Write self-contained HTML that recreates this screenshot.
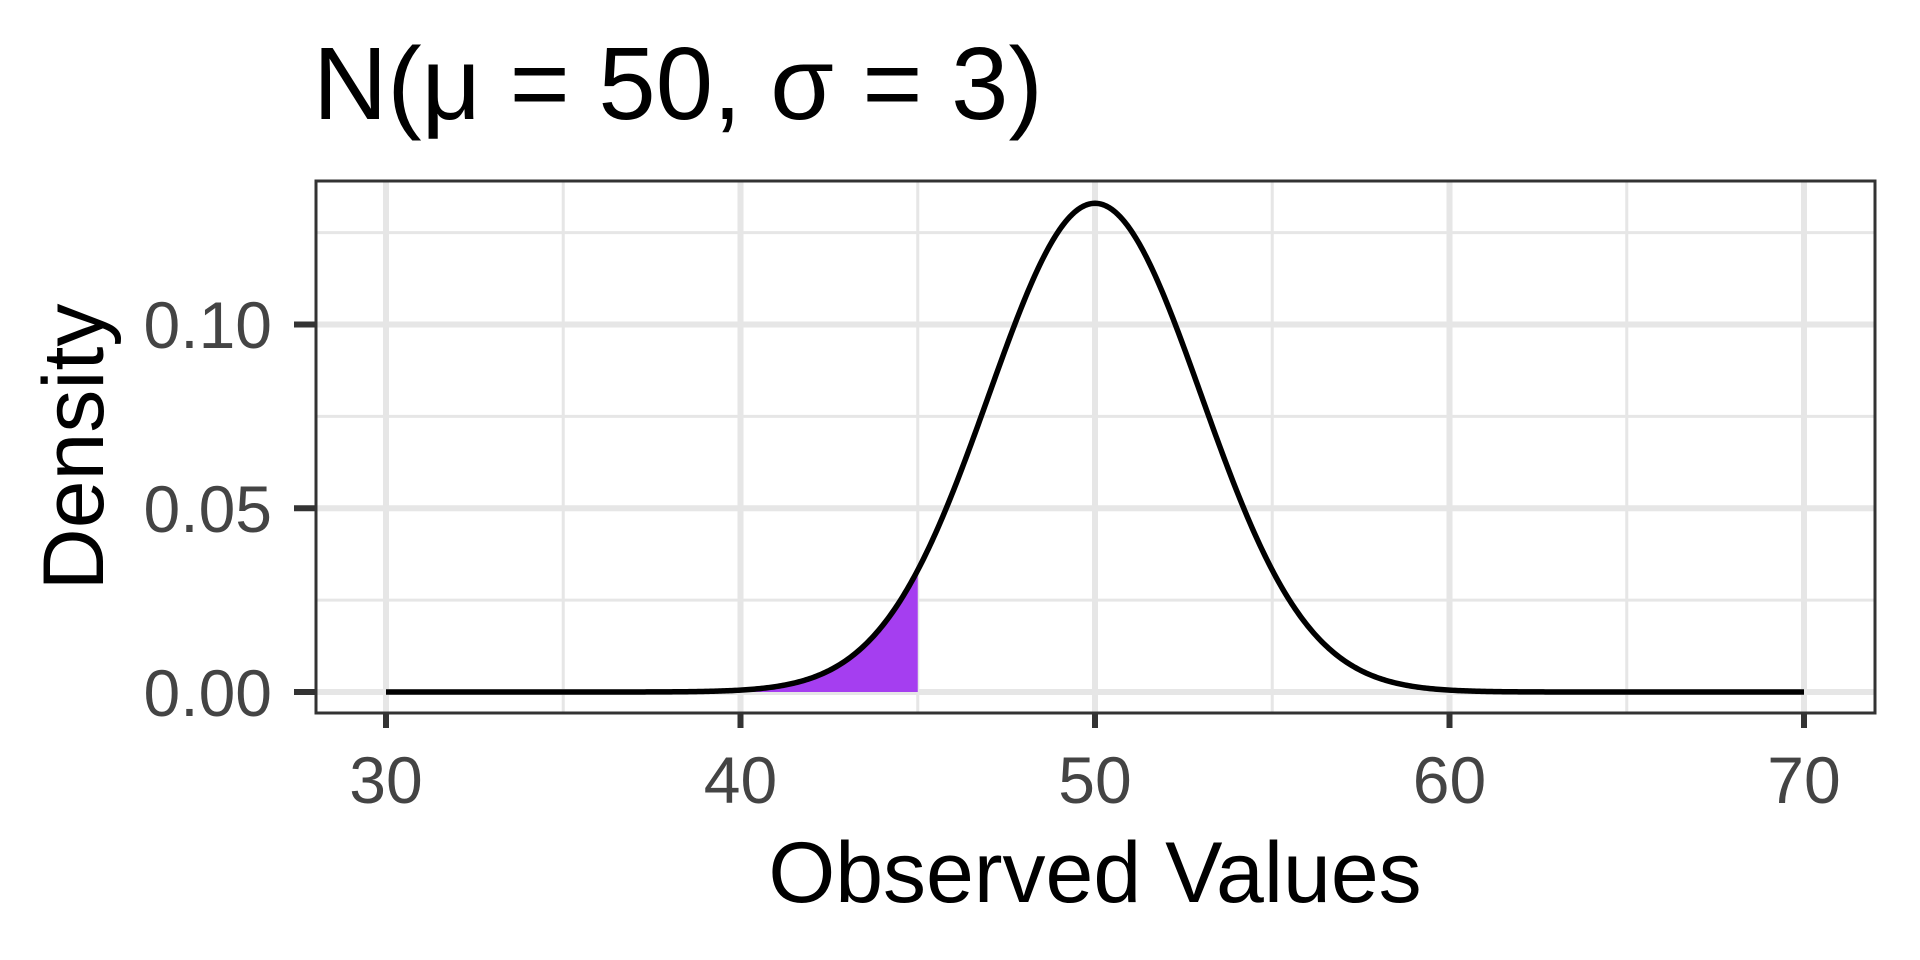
<!DOCTYPE html>
<html><head><meta charset="utf-8"><style>
html,body{margin:0;padding:0;background:#fff;}
svg{display:block;font-family:"Liberation Sans",Arial,sans-serif;}
</style></head><body>
<svg id="s" width="1920" height="960" viewBox="0 0 1920 960" xmlns="http://www.w3.org/2000/svg">
<rect width="1920" height="960" fill="#fff"/>
<g id="grid"></g>
<path id="fill" fill="#a53ef0" stroke="none"/>
<path id="curve" fill="none" stroke="#000" stroke-width="5.5" stroke-linejoin="round"/>
<rect x="316" y="181" width="1559" height="532" fill="none" stroke="#333" stroke-width="3"/>
<g id="ticks" stroke="#333" stroke-width="6"></g>
<g fill="#444" font-size="66">
<text x="272" y="716" text-anchor="end">0.00</text>
<text x="272" y="532" text-anchor="end">0.05</text>
<text x="272" y="348" text-anchor="end">0.10</text>
<text x="386" y="803" text-anchor="middle">30</text>
<text x="740.5" y="803" text-anchor="middle">40</text>
<text x="1095" y="803" text-anchor="middle">50</text>
<text x="1449.5" y="803" text-anchor="middle">60</text>
<text x="1804" y="803" text-anchor="middle">70</text>
</g>
<text x="1095" y="902" text-anchor="middle" font-size="86" fill="#000">Observed Values</text>
<text transform="translate(103,447) rotate(-90)" text-anchor="middle" font-size="86" fill="#000">Density</text>
<text x="313" y="119" font-size="103" fill="#000">N(μ = 50, σ = 3)</text>
</svg>
<script>
var X=function(x){return 386+(x-30)*35.45;},Y=function(d){return 692-d*3675;};
var g=document.getElementById('grid'),h='';
function ln(x1,y1,x2,y2,w){h+='<line x1="'+x1+'" y1="'+y1+'" x2="'+x2+'" y2="'+y2+'" stroke="#e6e6e6" stroke-width="'+w+'"/>';}
[35,45,55,65].forEach(function(v){ln(X(v),181,X(v),713,3);});
[0.025,0.075,0.125].forEach(function(v){ln(316,Y(v),1875,Y(v),3);});
[30,40,50,60,70].forEach(function(v){ln(X(v),181,X(v),713,6);});
[0,0.05,0.10].forEach(function(v){ln(316,Y(v),1875,Y(v),6);});
g.innerHTML=h;
var t='';
[30,40,50,60,70].forEach(function(v){t+='<line x1="'+X(v)+'" y1="713" x2="'+X(v)+'" y2="728"/>';});
[0,0.05,0.10].forEach(function(v){t+='<line x1="294" y1="'+Y(v)+'" x2="316" y2="'+Y(v)+'"/>';});
document.getElementById('ticks').innerHTML=t;
function f(x){return Math.exp(-Math.pow(x-50,2)/18)/(3*Math.sqrt(2*Math.PI));}
var p='',q='M'+X(30)+','+Y(0);
for(var i=0;i<=800;i++){var x=30+i*0.05;p+=(i?'L':'M')+X(x).toFixed(2)+','+Y(f(x)).toFixed(2);if(x<=45.0001)q+='L'+X(x).toFixed(2)+','+Y(f(x)).toFixed(2);}
q+='L'+X(45)+','+Y(0)+'Z';
document.getElementById('curve').setAttribute('d',p);
document.getElementById('fill').setAttribute('d',q);
</script>
</body></html>
